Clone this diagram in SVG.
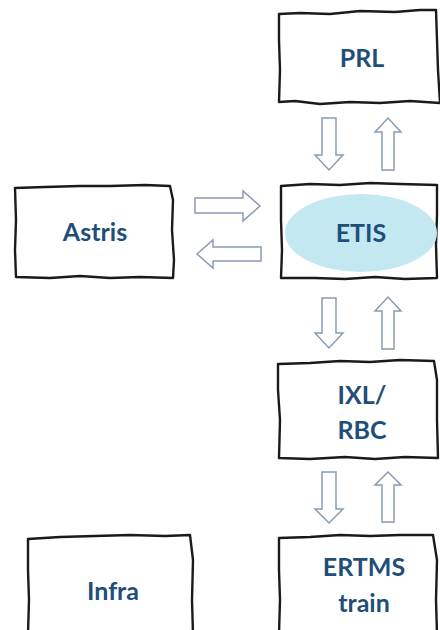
<svg xmlns="http://www.w3.org/2000/svg" width="440" height="630" viewBox="0 0 440 630">
<style>
.box{fill:#fff;stroke:#1a1a1a;stroke-width:2.4;stroke-linejoin:round;stroke-linecap:round}
.arr{fill:#fff;stroke:#8a9cb2;stroke-width:1.5;stroke-linejoin:miter}
.lbl{font-family:Lato,"Open Sans",sans-serif;font-weight:bold;font-size:25px;fill:#1f4e79;text-anchor:middle}
</style>
<rect width="440" height="630" fill="#fff"/>
<g id="connectors">
<polygon class="arr" points="322,118 336,118 336,155 343,155 329,170 315,155 322,155"/>
<polygon class="arr" points="388,118 401,132 394,132 394,170 382,170 382,132 375,132"/>
<polygon class="arr" points="195,198 243,198 243,191 260,206 243,221 243,213 195,213"/>
<polygon class="arr" points="261,247 213,247 213,240 197,254 213,268 213,261 261,261"/>
<polygon class="arr" points="322,298 336,298 336,333 343,333 329,348 315,333 322,333"/>
<polygon class="arr" points="388,297 401,311 394,311 394,349 382,349 382,311 375,311"/>
<polygon class="arr" points="322,472 336,472 336,509 343,509 329,523 315,509 322,509"/>
<polygon class="arr" points="388,472 401,485 394,485 394,522 382,522 382,485 375,485"/>
</g>
<g id="prl">
<path class="box" d="M279,14 L300,13 L330,14 L360,11 L395,12 L420,10 L436,10 L437,40 L438,70 L440,103 L410,101 L380,103 L350,102 L320,104 L295,101 L279,102 L280,70 L279,40 Z"/>
<text class="lbl" x="362" y="67">PRL</text>
</g>
<g id="etis">
<path class="box" d="M281,186 L310,184 L340,185 L370,183 L400,184 L437,185 L437,215 L436,245 L437,278 L405,279 L375,277 L345,279 L315,278 L281,278 L282,250 L281,220 Z"/>
<ellipse cx="361" cy="233" rx="76" ry="39" fill="#c4e8f2"/>
<text class="lbl" x="361" y="242">ETIS</text>
</g>
<g id="astris">
<path class="box" d="M15,188 L45,187 L80,186 L110,186 L145,185 L170,186 L173,200 L172,230 L174,260 L173,278 L140,277 L110,278 L80,276 L50,278 L16,277 L15,250 L16,220 Z"/>
<text class="lbl" x="95" y="241">Astris</text>
</g>
<g id="ixl">
<path class="box" d="M278,364 L310,363 L340,361 L370,362 L400,360 L434,361 L437,380 L437,420 L438,458 L405,457 L375,459 L345,457 L310,459 L279,458 L280,420 L278,390 Z"/>
<text class="lbl" x="362" y="404">IXL/</text>
<text class="lbl" x="362" y="439">RBC</text>
</g>
<g id="ertms">
<path class="box" d="M279,538 L310,537 L340,535 L370,536 L400,535 L433,535 L437,560 L436,600 L437,634 L279,634 L280,600 L279,570 Z"/>
<text class="lbl" x="364" y="576">ERTMS</text>
<text class="lbl" x="364" y="612">train</text>
</g>
<g id="infra">
<path class="box" d="M28,539 L60,537 L95,536 L130,535 L165,536 L190,535 L193,560 L192,600 L193,634 L28,634 L29,600 L28,570 Z"/>
<text class="lbl" x="113" y="600">Infra</text>
</g>
</svg>
